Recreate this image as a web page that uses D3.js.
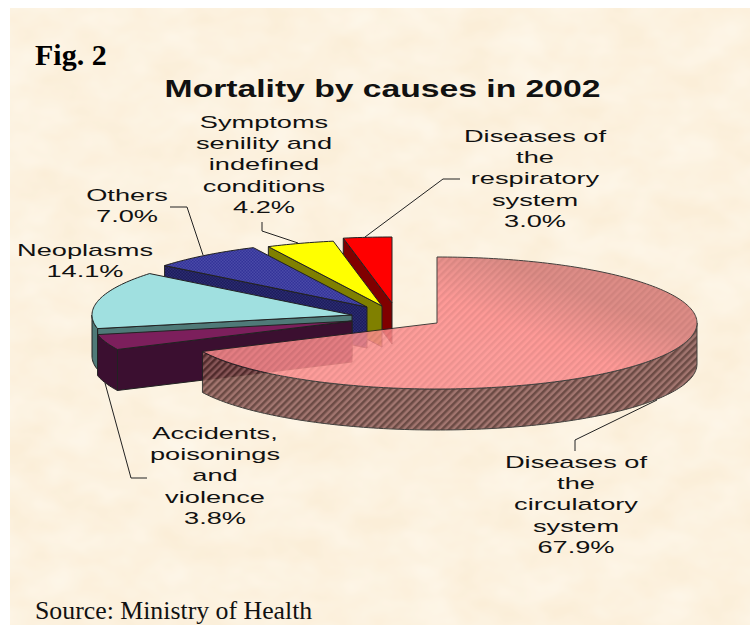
<!DOCTYPE html>
<html>
<head>
<meta charset="utf-8">
<title>Mortality by causes in 2002</title>
<script src="https://cdn.jsdelivr.net/npm/d3@7"></script>
<style>
  html, body { margin: 0; padding: 0; background: #fff; }
  svg { display: block; }
</style>
</head>
<body>
<div id="chart"></div>
<script>
// values, clockwise from 12 o'clock
var categories = [
  "Diseases of the circulatory system",
  "Accidents, poisonings and violence",
  "Neoplasms",
  "Others",
  "Symptoms senility and indefined conditions",
  "Diseases of the respiratory system"
];
var values = [67.9, 3.8, 14.1, 7.0, 4.2, 3.0];
var labelLines = [
  ["Diseases of", "the", "circulatory", "system"],
  ["Accidents,", "poisonings", "and", "violence"],
  ["Neoplasms"],
  ["Others"],
  ["Symptoms", "senility and", "indefined", "conditions"],
  ["Diseases of", "the", "respiratory", "system"]
];

// styling and layout, one entry per slice
var topFills = ["url(#mainTopBase)", "#7c1f5c", "#a0e0e0", "url(#blueTop)", "#ffff00", "#ff0000"];
var wallFills = ["url(#mainWall)", "#3b0f30", "#4f7a78", "url(#blueWall)", "#808000", "#800000"];
var explode = [[0, 0], [-85, -2], [-85, -8], [-70, -16], [-55, -17], [-45, -20]];
var labelPos = [[576, 468], [215, 439], [85, 256], [127, 201], [264, 128], [535, 142]];
var leaders = [
  [[575, 451], [575, 440], [657, 400]],
  [[147, 478], [131, 478], [105, 383]],
  null,
  [[170, 207], [187, 207], [203, 255]],
  [[262, 222], [262, 231], [298, 243]],
  [[460, 179], [443, 179], [365, 237]]
];

var width = 750, height = 625;
var cx = 437, cy = 323, rx = 260, ry = 66, depth = 41;
var lineGap = 21.2;

var x = d3.scaleLinear().domain([-1, 1]).range([cx - rx, cx + rx]);
var y = d3.scaleLinear().domain([-1, 1]).range([cy - ry, cy + ry]);

var svg = d3.select("#chart").append("svg")
  .attr("width", width)
  .attr("height", height);

var defs = svg.append("defs");

// parchment mottling
var paper = defs.append("filter").attr("id", "paper")
  .attr("x", 0).attr("y", 0).attr("width", 1).attr("height", 1);
paper.append("feTurbulence")
  .attr("type", "fractalNoise")
  .attr("baseFrequency", "0.02 0.03")
  .attr("numOctaves", 3)
  .attr("seed", 7);
paper.append("feColorMatrix")
  .attr("type", "matrix")
  .attr("values", "0 0 0 0 1  0 0 0 0 0.97  0 0 0 0 0.9  0.9 0 0 0 -0.18");

var mainTop = defs.append("linearGradient").attr("id", "mainTopBase")
  .attr("gradientUnits", "userSpaceOnUse")
  .attr("x1", 480).attr("y1", 252).attr("x2", 445).attr("y2", 340);
mainTop.append("stop").attr("offset", 0).attr("stop-color", "#d87c78");
mainTop.append("stop").attr("offset", 0.6).attr("stop-color", "#ff8c8c");
mainTop.append("stop").attr("offset", 1).attr("stop-color", "#ff9090");

function stripes(id, base, ink) {
  var p = defs.append("pattern").attr("id", id)
    .attr("patternUnits", "userSpaceOnUse")
    .attr("width", 5).attr("height", 5)
    .attr("patternTransform", "rotate(45)");
  if (base) p.append("rect").attr("width", 5).attr("height", 5).attr("fill", base);
  p.append("rect").attr("width", 2.5).attr("height", 5).attr("fill", ink);
}
stripes("mainStripes", null, "rgba(110,50,50,0.14)");
stripes("mainWall", "#94625e", "#54302c");

function dots(id, base, dot) {
  var p = defs.append("pattern").attr("id", id)
    .attr("patternUnits", "userSpaceOnUse")
    .attr("width", 3).attr("height", 3);
  p.append("rect").attr("width", 3).attr("height", 3).attr("fill", base);
  p.append("rect").attr("width", 1.5).attr("height", 1.5).attr("fill", dot);
  p.append("rect").attr("x", 1.5).attr("y", 1.5).attr("width", 1.5).attr("height", 1.5).attr("fill", dot);
}
dots("blueTop", "#333399", "#4a4aa8");
dots("blueWall", "#1c1c5c", "#2c2c70");

// background
svg.append("rect").attr("x", 10).attr("y", 8).attr("width", width - 10).attr("height", height - 8)
  .attr("fill", "#fbeed8");
svg.append("rect").attr("x", 10).attr("y", 8).attr("width", width - 10).attr("height", height - 8)
  .attr("filter", "url(#paper)");

var pie = d3.pie().sort(null).startAngle(0).endAngle(2 * Math.PI);
var slices = pie(values);

var line = d3.line();

function arcPoints(a0, a1, dx, dy) {
  var n = Math.max(2, Math.ceil((a1 - a0) / 0.02));
  return d3.range(n + 1).map(function(i) {
    var a = a0 + (a1 - a0) * i / n;
    return [x(Math.sin(a)) + dx, y(-Math.cos(a)) + dy];
  });
}

function drawSlice(d, i) {
  var g = svg.append("g").attr("class", "slice");
  var off = explode[i];
  var apex = [x(0) + off[0], y(0) + off[1]];

  // side wall along the radius that faces the viewer
  if (i > 0) {
    var o = arcPoints(d.startAngle, d.startAngle, off[0], off[1])[0];
    g.append("path")
      .attr("d", line([o, apex, [apex[0], apex[1] + depth], [o[0], o[1] + depth]]) + "Z")
      .attr("fill", wallFills[i])
      .attr("stroke", "#222").attr("stroke-width", 1);
  }

  // rim, only the part on the near half of the ellipse
  var a0 = Math.max(d.startAngle, Math.PI / 2);
  var a1 = Math.min(d.endAngle, 3 * Math.PI / 2);
  if (a1 > a0) {
    var upper = arcPoints(a0, a1, off[0], off[1]);
    var lower = upper.map(function(p) { return [p[0], p[1] + depth]; }).reverse();
    g.append("path")
      .attr("d", line(upper.concat(lower)) + "Z")
      .attr("fill", wallFills[i])
      .attr("stroke", "#222").attr("stroke-width", 1);
  }

  // top face
  var face = line(arcPoints(d.startAngle, d.endAngle, off[0], off[1]).concat([apex])) + "Z";
  g.append("path")
    .attr("d", face)
    .attr("fill", topFills[i])
    .attr("stroke", "#222").attr("stroke-width", 1);
  if (i === 0) {
    g.append("path").attr("d", face).attr("fill", "url(#mainStripes)");
  }

  return g;
}

// back to front, the big slice goes over the others and is see-through
d3.range(slices.length - 1, -1, -1).forEach(function(i) {
  var g = drawSlice(slices[i], i);
  if (i === 0) g.attr("opacity", 0.86);
});

// leader lines
leaders.forEach(function(pts) {
  if (!pts) return;
  svg.append("path")
    .attr("d", line(pts))
    .attr("fill", "none")
    .attr("stroke", "#222")
    .attr("stroke-width", 1);
});

// text is wide in the original, so stretch it horizontally
function wideText(str, px, py, size, weight, stretch) {
  svg.append("text")
    .attr("transform", "translate(" + px + "," + py + ") scale(" + stretch + ",1)")
    .attr("text-anchor", "middle")
    .attr("font-family", "'Liberation Sans', Arial, sans-serif")
    .attr("font-size", size)
    .attr("font-weight", weight)
    .attr("fill", "#111")
    .text(str);
}

labelLines.forEach(function(lines, i) {
  var rows = lines.concat([d3.format(".1f")(values[i]) + "%"]);
  rows.forEach(function(t, j) {
    wideText(t, labelPos[i][0], labelPos[i][1] + j * lineGap, 17, "normal", 1.6);
  });
});

wideText("Mortality by causes in 2002", 382.5, 97, 23.5, "bold", 1.433);

svg.append("text")
  .attr("x", 35).attr("y", 65)
  .attr("font-family", "'Liberation Serif', 'Times New Roman', serif")
  .attr("font-size", 30)
  .attr("font-weight", "bold")
  .attr("fill", "#000")
  .text("Fig. 2");

svg.append("text")
  .attr("x", 35).attr("y", 619)
  .attr("font-family", "'Liberation Serif', 'Times New Roman', serif")
  .attr("font-size", 25.8)
  .attr("fill", "#111")
  .text("Source: Ministry of Health");
</script>
</body>
</html>
